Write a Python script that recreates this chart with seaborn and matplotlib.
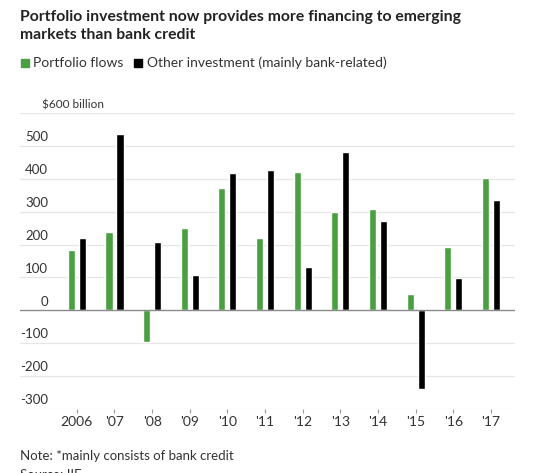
import matplotlib
matplotlib.use("Agg")
import matplotlib.pyplot as plt
import seaborn as sns
import pandas as pd
from matplotlib.transforms import offset_copy

years = ["2006", "'07", "'08", "'09", "'10", "'11", "'12", "'13", "'14", "'15", "'16", "'17"]
portfolio = [182, 237, -96, 249, 373, 221, 422, 298, 307, 51, 192, 403]
other = [221, 537, 209, 108, 417, 428, 132, 480, 273, -240, 99, 334]
series_names = ["Portfolio flows", "Other investment (mainly bank-related)"]
yticks = [600, 500, 400, 300, 200, 100, 0, -100, -200, -300]
ytick_labels = ["$600 billion", "500", "400", "300", "200", "100", "0", "-100", "-200", "-300"]

colors = ["#4a9f40", "#000000"]

df = pd.DataFrame({
    "year": years * 2,
    "value": portfolio + other,
    "series": [series_names[0]] * len(years) + [series_names[1]] * len(years),
})

sns.set_theme(style="white")
plt.rcParams["font.family"] = ["Lato", "DejaVu Sans"]

W, H = 540, 473
fig = plt.figure(figsize=(W / 100, H / 100), dpi=100)
ax = fig.add_axes([20 / W, 1 - 409 / H, (515 - 20) / W, (409 - 113) / H])

sns.barplot(data=df, x="year", y="value", hue="series", order=years,
            hue_order=series_names, palette=colors, width=0.584, gap=0.35,
            saturation=1, legend=False, ax=ax, errorbar=None)

ax.set_xlim(-1.51, 11.64)
ax.set_ylim(-300, 600)
for s in ax.spines.values():
    s.set_visible(False)
ax.set_xlabel("")
ax.set_ylabel("")
ax.set_yticks([])

# gridlines
for v in yticks:
    if v == 0:
        ax.axhline(0, color="#8a8a8a", lw=1.0, zorder=3)
    else:
        ax.axhline(v, color="#e6e6e6", lw=0.9, zorder=0)

# y labels above gridlines
for v, lab in zip(yticks, ytick_labels):
    if v == 600:
        ax.text(24 / W, v, lab, transform=offset_copy(ax.get_yaxis_transform(), fig=fig, x=0, y=2, units="points"),
                fontsize=8.5, color="#333333", ha="left", va="bottom")
    else:
        tr = ax.get_yaxis_transform()
        ax.text((48 - 20) / (515 - 20), v, lab, transform=offset_copy(tr, fig=fig, x=0, y=2, units="points"),
                fontsize=9.5, color="#333333", ha="right", va="bottom")

ax.tick_params(axis="x", length=3, width=0.8, color="#999999", labelsize=10,
               labelcolor="#333333", pad=2, bottom=True)

# title
fig.text(20 / W, 1 - 10 / H, "Portfolio investment now provides more financing to emerging\nmarkets than bank credit",
         fontsize=11.3, fontweight="bold", color="#222222", ha="left", va="top", linespacing=1.35)

# legend
ly = 1 - 63 / H
fig.patches.append(plt.Rectangle((21 / W, ly - 4 / H), 8 / W, 8 / H, transform=fig.transFigure,
                                 color=colors[0], figure=fig))
fig.text(33 / W, ly, series_names[0], fontsize=10, color="#333333", ha="left", va="center")
fig.patches.append(plt.Rectangle((134 / W, ly - 4 / H), 8 / W, 8 / H, transform=fig.transFigure,
                                 color=colors[1], figure=fig))
fig.text(147 / W, ly, series_names[1], fontsize=10, color="#333333", ha="left", va="center")

# notes
fig.text(20 / W, 1 - 456 / H, "Note: *mainly consists of bank credit", fontsize=9.5, color="#333333",
         ha="left", va="center")
fig.text(20 / W, 1 - 469 / H, "Source: IIF", fontsize=9.5, color="#333333", ha="left", va="top")

fig.savefig("out.png", dpi=100, facecolor="white")
